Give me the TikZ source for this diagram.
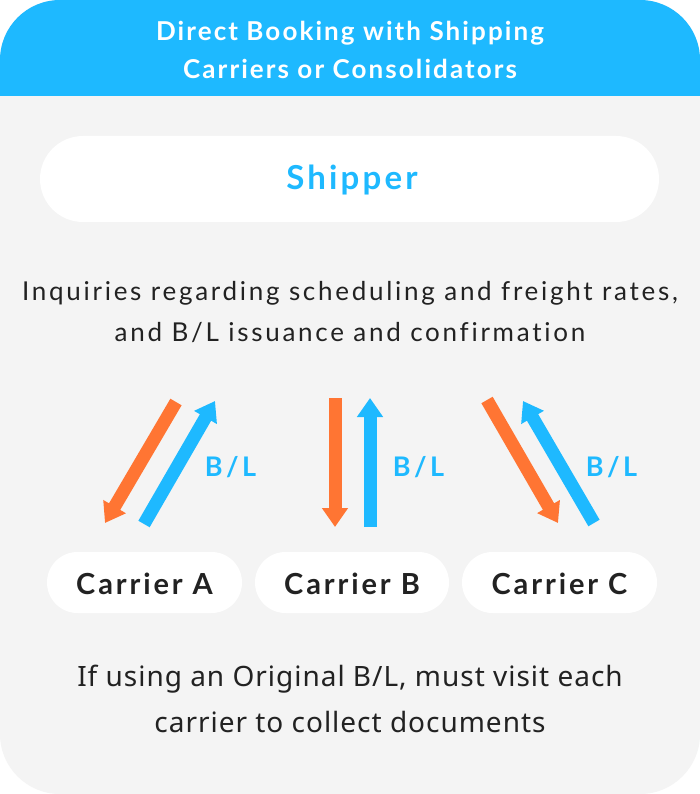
\documentclass[tikz,border=0pt]{standalone}
\usepackage{fontspec}
\setmainfont{Lato}
\newfontfamily\hfont[LetterSpace=8]{Lato}
\newfontfamily\sfont[LetterSpace=9.5]{Lato}
\newfontfamily\ifont[LetterSpace=10.5,Ligatures=NoCommon]{Lato}
\newfontfamily\cfont[LetterSpace=10]{Lato}
\newfontfamily\bfont[LetterSpace=3.5]{Noto Sans}
\usetikzlibrary{arrows.meta}
\definecolor{cy}{HTML}{1EB9FF}
\definecolor{orng}{HTML}{FF7533}
\definecolor{bgg}{HTML}{F4F4F4}
\definecolor{txt}{HTML}{222222}
\tikzset{
  orarrow/.style={draw=orng, line width=13pt, -{Triangle[width=25pt,length=19pt]}},
  blarrow/.style={draw=cy, line width=13pt, -{Triangle[width=25pt,length=19pt]}},
  bl/.style={text=cy, font=\cfont\bfseries\fontsize{27}{30}\selectfont},
  carrier/.style={text=txt, font=\cfont\bfseries\fontsize{29}{34}\selectfont},
}
\newcommand{\blt}{B\kern3.5pt/\kern3.5pt L}
\begin{document}
\begin{tikzpicture}[x=1pt,y=-1pt]
\useasboundingbox (0,0) rectangle (700,794);
\fill[white] (0,0) rectangle (700,794);
\begin{scope}
  \clip[rounded corners=60pt] (0,0) rectangle (700,794);
  \fill[bgg] (0,0) rectangle (700,794);
  \fill[cy] (0,0) rectangle (700,96);
\end{scope}
\node[text=white, align=center, font=\hfont\bfseries\fontsize{26}{38}\selectfont] (title) at (350,50) {Direct Booking with Shipping\\Carriers or Consolidators};
\fill[white, rounded corners=43pt] (40,136) rectangle (659,222);
\node[text=cy, font=\sfont\bfseries\fontsize{33}{40}\selectfont] (shipper) at (352,180) {Shipper};
\node[text=txt, align=center, font=\ifont\fontsize{26}{41}\selectfont] (inq) at (350,312) {Inquiries regarding scheduling and freight rates,\\and B/L issuance and confirmation};
\fill[white, rounded corners=30.5pt] (47,552) rectangle (242,613);
\fill[white, rounded corners=30.5pt] (255,552) rectangle (449,613);
\fill[white, rounded corners=30.5pt] (462,552) rectangle (657,613);
\node[carrier] (ca) at (144.5,584) {Carrier A};
\node[carrier] (cb) at (352,584) {Carrier B};
\node[carrier] (cc) at (559.5,584) {Carrier C};
\coordinate (oa1) at (176,402); \coordinate (oa2) at (105,523);
\coordinate (ob1) at (335,398); \coordinate (ob2) at (335,527);
\coordinate (oc1) at (487,400); \coordinate (oc2) at (558,523);
\coordinate (ba1) at (144,524); \coordinate (ba2) at (215,401);
\coordinate (bb1) at (370,527); \coordinate (bb2) at (370,398);
\coordinate (bc1) at (594,523); \coordinate (bc2) at (523,401);
\draw[orarrow] (oa1) -- (oa2);
\draw[orarrow] (ob1) -- (ob2);
\draw[orarrow] (oc1) -- (oc2);
\draw[blarrow] (ba1) -- (ba2);
\draw[blarrow] (bb1) -- (bb2);
\draw[blarrow] (bc1) -- (bc2);
\node[bl] (bla) at (230.5,467) {\blt};
\node[bl] (blb) at (418.5,467) {\blt};
\node[bl] (blc) at (611.5,467) {\blt};
\node[text=txt, align=center, font=\bfont\fontsize{28}{46}\selectfont] (note) at (350,699) {If using an Original B/L, must visit each\\carrier to collect documents};
\end{tikzpicture}
\end{document}
